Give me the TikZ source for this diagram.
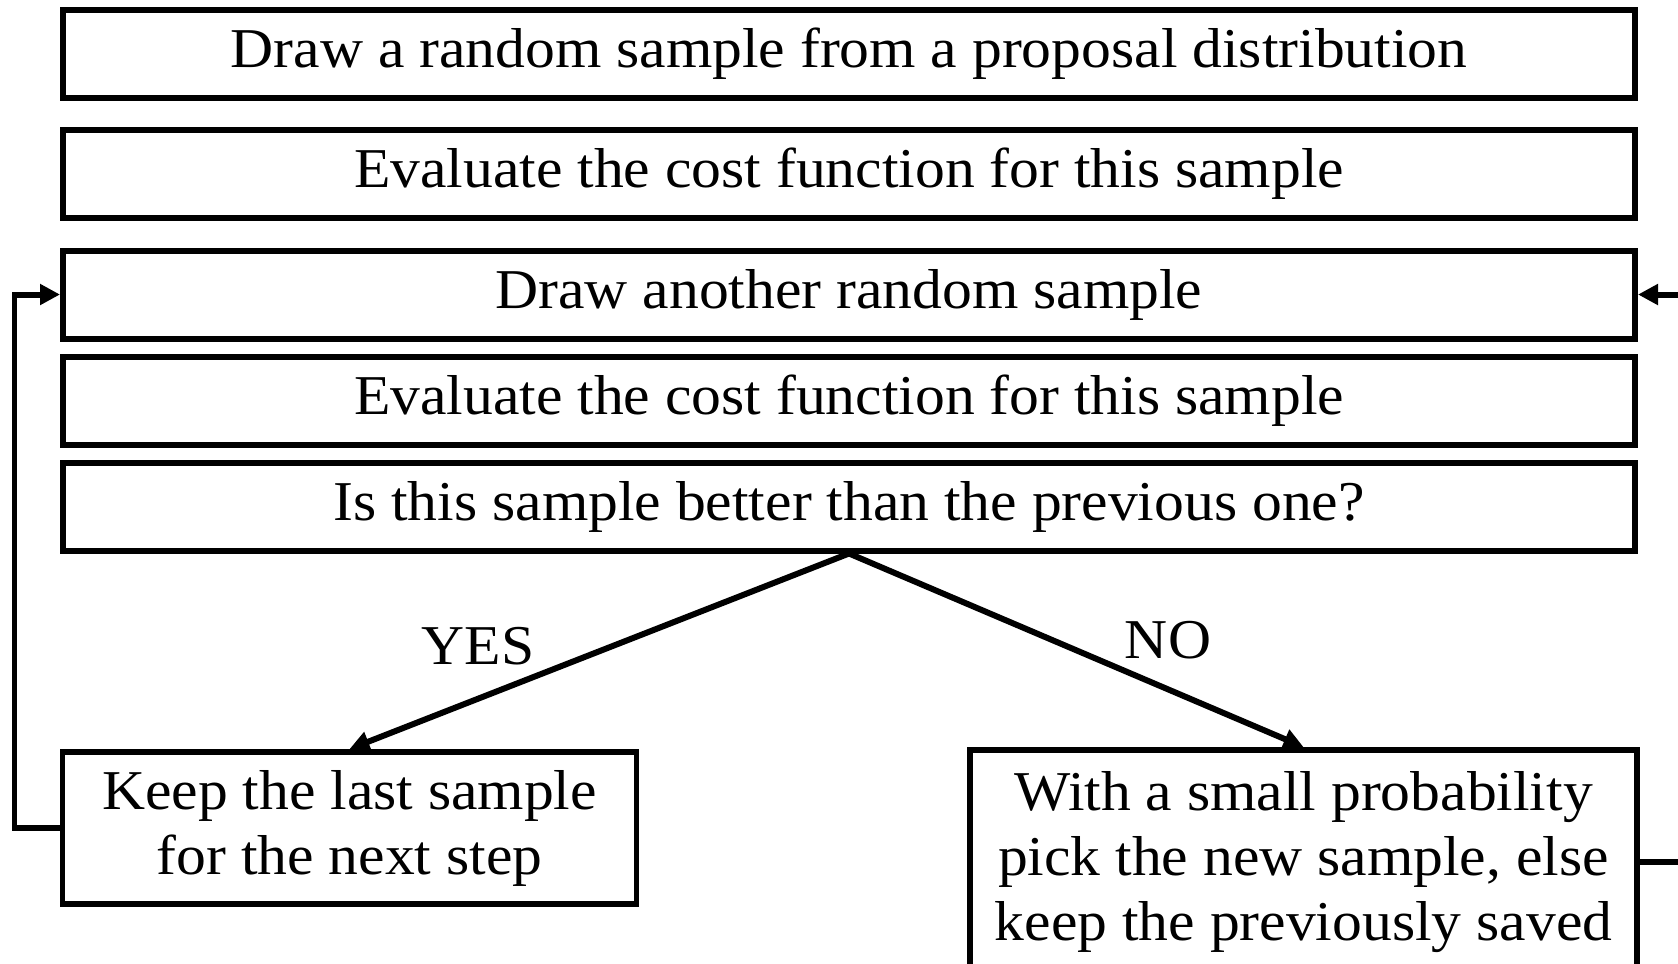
\documentclass[tikz,border=0pt]{standalone}
\usepackage{fontspec}
\setmainfont{Liberation Serif}[FakeStretch=1.06]
\usetikzlibrary{arrows.meta}

\tikzset{
  stepbox/.style={draw, line width=1.7pt, minimum width=15.72cm, minimum height=0.88cm,
    inner sep=0pt, align=center},
  flow/.style={line width=1.7pt, -{Triangle[length=0.2cm,width=0.2cm]}},
}

\begin{document}
\begin{tikzpicture}[font=\fontsize{16}{18.5}\selectfont]
    % picture frame, cut as in the original
    \useasboundingbox (0,0) rectangle (16.78,-9.63);
    \clip (0,0) rectangle (16.78,-9.63);
    % main steps
    \node[stepbox] (draw1) at (8.49,-0.535) {Draw a random sample from a proposal distribution};
    \node[stepbox] (eval1) at (8.49,-1.735) {Evaluate the cost function for this sample};
    \node[stepbox] (draw2) at (8.49,-2.945) {Draw another random sample};
    \node[stepbox] (eval2) at (8.49,-4.005) {Evaluate the cost function for this sample};
    \node[stepbox] (better) at (8.49,-5.065) {Is this sample better than the previous one?};
    % outcomes
    \node[stepbox, minimum width=5.74cm, minimum height=1.52cm] (keep) at (3.495,-8.28)
        {Keep the last sample\\for the next step};
    \node[stepbox, minimum width=6.67cm, minimum height=2.24cm] (pick) at (13.035,-8.62)
        {With a small probability\\pick the new sample, else\\keep the previously saved};
    % decision
    \draw[flow] (better.south) -- (keep.north);
    \draw[flow] (better.south) -- (pick.north);
    \node (yes) at (4.78,-6.46) {YES};
    \node (no) at (11.68,-6.40) {NO};
    % loops back
    \draw[flow] (keep.west) -- ++(-0.45,0) |- (draw2.west);
    \draw[flow] (pick.east) -- ++(0.6,0) |- (draw2.east);
\end{tikzpicture}
\end{document}
